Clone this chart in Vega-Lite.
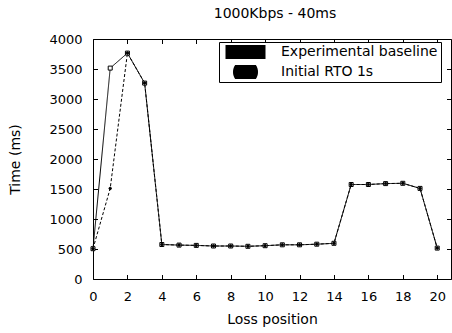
{
  "$schema": "https://vega.github.io/schema/vega-lite/v6.json",
  "width": 358,
  "height": 240,
  "autosize": "none",
  "padding": {"left": 93, "top": 39, "right": 1, "bottom": 54},
  "background": "white",
  "config": {
    "font": "DejaVu Sans",
    "view": {"stroke": "black", "strokeWidth": 1},
    "axis": {
      "domain": false,
      "grid": false,
      "tickColor": "black",
      "tickWidth": 1,
      "tickSize": -4.5,
      "labelFont": "DejaVu Sans",
      "labelFontSize": 13,
      "labelColor": "black",
      "labelPadding": 15.5,
      "labelFlush": false,
      "titleFont": "DejaVu Sans",
      "titleFontSize": 14,
      "titleFontWeight": "normal",
      "titleColor": "black"
    }
  },
  "title": {
    "text": "1000Kbps - 40ms",
    "font": "DejaVu Sans",
    "fontSize": 14,
    "fontWeight": "normal",
    "color": "black",
    "offset": 12,
    "dx": 3
  },
  "data": {
    "values": [
      {"pos": 0, "time": 505, "series": "Experimental baseline"},
      {"pos": 1, "time": 3515, "series": "Experimental baseline"},
      {"pos": 2, "time": 3765, "series": "Experimental baseline"},
      {"pos": 3, "time": 3265, "series": "Experimental baseline"},
      {"pos": 4, "time": 575, "series": "Experimental baseline"},
      {"pos": 5, "time": 565, "series": "Experimental baseline"},
      {"pos": 6, "time": 560, "series": "Experimental baseline"},
      {"pos": 7, "time": 550, "series": "Experimental baseline"},
      {"pos": 8, "time": 550, "series": "Experimental baseline"},
      {"pos": 9, "time": 545, "series": "Experimental baseline"},
      {"pos": 10, "time": 555, "series": "Experimental baseline"},
      {"pos": 11, "time": 570, "series": "Experimental baseline"},
      {"pos": 12, "time": 570, "series": "Experimental baseline"},
      {"pos": 13, "time": 580, "series": "Experimental baseline"},
      {"pos": 14, "time": 595, "series": "Experimental baseline"},
      {"pos": 15, "time": 1575, "series": "Experimental baseline"},
      {"pos": 16, "time": 1575, "series": "Experimental baseline"},
      {"pos": 17, "time": 1590, "series": "Experimental baseline"},
      {"pos": 18, "time": 1595, "series": "Experimental baseline"},
      {"pos": 19, "time": 1510, "series": "Experimental baseline"},
      {"pos": 20, "time": 515, "series": "Experimental baseline"},
      {"pos": 0, "time": 505, "series": "Initial RTO 1s"},
      {"pos": 1, "time": 1510, "series": "Initial RTO 1s"},
      {"pos": 2, "time": 3765, "series": "Initial RTO 1s"},
      {"pos": 3, "time": 3265, "series": "Initial RTO 1s"},
      {"pos": 4, "time": 575, "series": "Initial RTO 1s"},
      {"pos": 5, "time": 565, "series": "Initial RTO 1s"},
      {"pos": 6, "time": 560, "series": "Initial RTO 1s"},
      {"pos": 7, "time": 550, "series": "Initial RTO 1s"},
      {"pos": 8, "time": 550, "series": "Initial RTO 1s"},
      {"pos": 9, "time": 545, "series": "Initial RTO 1s"},
      {"pos": 10, "time": 555, "series": "Initial RTO 1s"},
      {"pos": 11, "time": 570, "series": "Initial RTO 1s"},
      {"pos": 12, "time": 570, "series": "Initial RTO 1s"},
      {"pos": 13, "time": 580, "series": "Initial RTO 1s"},
      {"pos": 14, "time": 595, "series": "Initial RTO 1s"},
      {"pos": 15, "time": 1575, "series": "Initial RTO 1s"},
      {"pos": 16, "time": 1575, "series": "Initial RTO 1s"},
      {"pos": 17, "time": 1590, "series": "Initial RTO 1s"},
      {"pos": 18, "time": 1595, "series": "Initial RTO 1s"},
      {"pos": 19, "time": 1510, "series": "Initial RTO 1s"},
      {"pos": 20, "time": 515, "series": "Initial RTO 1s"}
    ]
  },
  "layer": [
    {
      "mark": {"type": "line", "stroke": "black", "strokeWidth": 1},
      "encoding": {
        "x": {
          "field": "pos",
          "type": "quantitative",
          "scale": {"domain": [0, 20.8], "nice": false, "zero": false},
          "axis": {
            "orient": "bottom",
            "values": [0, 2, 4, 6, 8, 10, 12, 14, 16, 18, 20],
            "title": "Loss position",
            "titlePadding": 9.5
          }
        },
        "y": {
          "field": "time",
          "type": "quantitative",
          "scale": {"domain": [0, 4000], "nice": false},
          "axis": {
            "orient": "left",
            "format": "d",
            "values": [0, 500, 1000, 1500, 2000, 2500, 3000, 3500, 4000],
            "title": "Time (ms)",
            "titlePadding": 26
          }
        },
        "strokeDash": {
          "field": "series",
          "type": "nominal",
          "scale": {
            "domain": ["Initial RTO 1s", "Experimental baseline"],
            "range": [[3, 2], [1, 0]]
          },
          "legend": null
        }
      }
    },
    {
      "mark": {
        "type": "point",
        "filled": true,
        "size": 25,
        "stroke": "black",
        "strokeWidth": 1,
        "opacity": 1
      },
      "encoding": {
        "x": {
          "field": "pos",
          "type": "quantitative",
          "axis": {
            "orient": "top",
            "values": [0, 2, 4, 6, 8, 10, 12, 14, 16, 18, 20],
            "labels": false,
            "title": null
          }
        },
        "y": {
          "field": "time",
          "type": "quantitative",
          "axis": {
            "orient": "right",
            "values": [0, 500, 1000, 1500, 2000, 2500, 3000, 3500, 4000],
            "labels": false,
            "title": null
          }
        },
        "shape": {
          "field": "series",
          "type": "nominal",
          "scale": {
            "domain": ["Experimental baseline", "Initial RTO 1s"],
            "range": [
              "M-0.8,-0.8H0.8V0.8H-0.8Z",
              "M-0.5,0A0.5,0.5,0,1,1,0.5,0A0.5,0.5,0,1,1,-0.5,0Z"
            ]
          },
          "legend": {
            "orient": "none",
            "legendX": 126,
            "legendY": 3,
            "title": null,
            "padding": 3,
            "strokeColor": "black",
            "fillColor": "white",
            "labelFont": "DejaVu Sans",
            "labelFontSize": 14,
            "labelColor": "black",
            "labelOffset": 10,
            "symbolSize": 2500,
            "symbolOffset": -2,
            "symbolStrokeWidth": 1,
            "symbolStrokeColor": "black",
            "clipHeight": 14,
            "rowPadding": 6,
            "encode": {
              "symbols": {
                "size": {"value": 2500},
                "stroke": {"value": "black"},
                "strokeWidth": {"value": 1},
                "opacity": {"value": 1},
                "fill": {
                  "condition": {
                    "test": "datum.value === 'Initial RTO 1s'",
                    "value": "black"
                  },
                  "value": "white"
                },
                "shape": {
                  "condition": {
                    "test": "datum.value === 'Initial RTO 1s'",
                    "value": "M-1,0H1M-0.06,0A0.06,0.06,0,1,1,0.06,0A0.06,0.06,0,1,1,-0.06,0Z"
                  },
                  "value": "M-1,0H-0.08M0.08,0H1M-0.08,-0.08H0.08V0.08H-0.08Z"
                },
                "strokeDash": {
                  "condition": {
                    "test": "datum.value === 'Initial RTO 1s'",
                    "value": [3, 2]
                  },
                  "value": [1, 0]
                }
              }
            }
          }
        },
        "fill": {
          "field": "series",
          "type": "nominal",
          "scale": {
            "domain": ["Initial RTO 1s", "Experimental baseline"],
            "range": ["black", "white"]
          },
          "legend": null
        }
      }
    }
  ],
  "resolve": {"axis": {"x": "independent", "y": "independent"}}
}
